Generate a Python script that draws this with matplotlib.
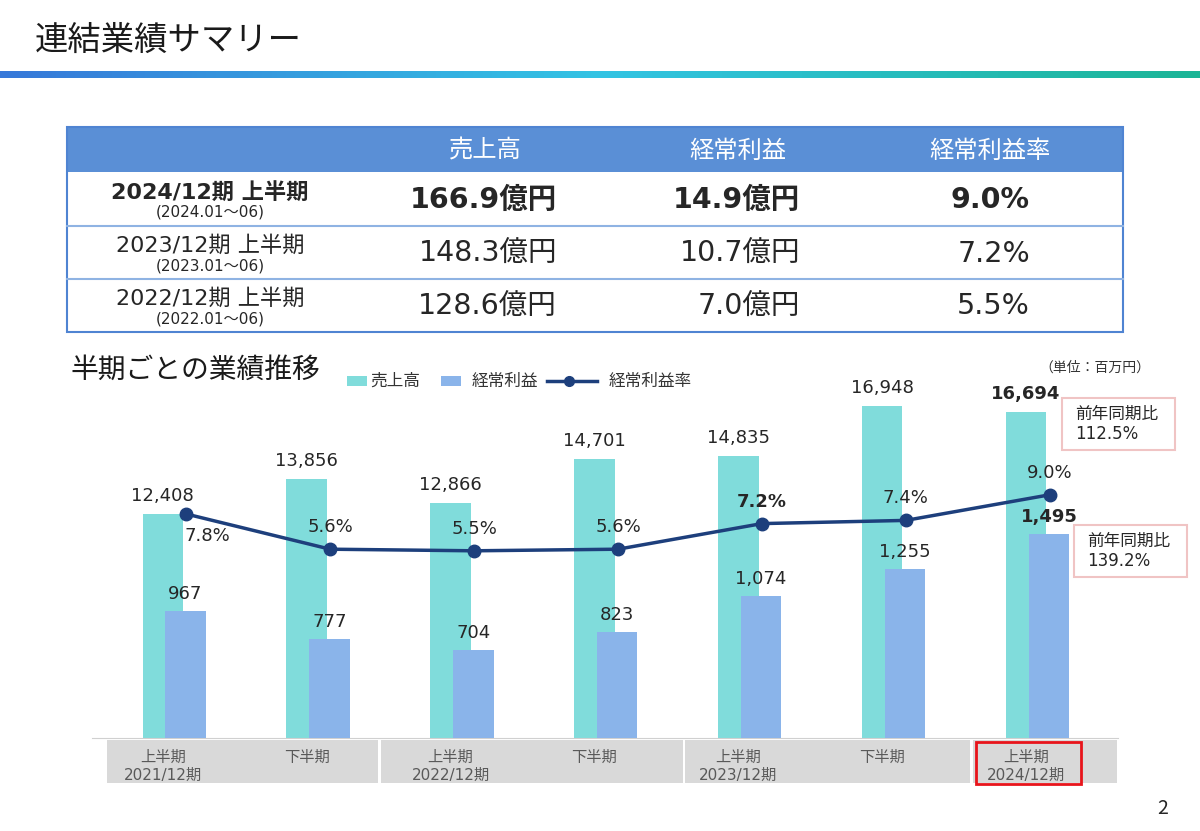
import matplotlib
matplotlib.use("Agg")
import matplotlib.pyplot as plt
import numpy as np
from matplotlib.colors import LinearSegmentedColormap
from matplotlib.patches import Rectangle

plt.rcParams['font.family'] = ['Noto Sans CJK JP', 'DejaVu Sans']
NUM = ['DejaVu Sans', 'Noto Sans CJK JP']  # 数字は幅広めのフォント

# 表データ
table_cols = ["売上高", "経常利益", "経常利益率"]
table_rows = ["2024/12期 上半期", "2023/12期 上半期", "2022/12期 上半期"]
table_sub = ["(2024.01～06)", "(2023.01～06)", "(2022.01～06)"]
table_sales = ["166.9億円", "148.3億円", "128.6億円"]
table_profit = ["14.9億円", "10.7億円", "7.0億円"]
table_margin = ["9.0%", "7.2%", "5.5%"]

# 半期ごとの推移
half_labels = ["上半期", "下半期", "上半期", "下半期", "上半期", "下半期", "上半期"]
year_labels = ["2021/12期", "", "2022/12期", "", "2023/12期", "", "2024/12期"]
sales = [12408, 13856, 12866, 14701, 14835, 16948, 16694]
profit = [967, 777, 704, 823, 1074, 1255, 1495]
margin = [7.8, 5.6, 5.5, 5.6, 7.2, 7.4, 9.0]

C_SALES = "#80dcdb"
C_PROFIT = "#8ab4ea"
C_LINE = "#1d3f7c"
C_TEXT = "#262626"

W, H = 1200, 831
fig = plt.figure(figsize=(W / 100, H / 100), dpi=100)

def fx(px):
    return px / W

def fy(py):
    return 1 - py / H

# 装飾用 (ピクセル座標)
deco = fig.add_axes([0, 0, 1, 1], zorder=1)
deco.patch.set_alpha(0)
deco.axis("off")

# タイトル
deco.text(35, 40, "連結業績サマリー", fontsize=24, color="#1a1a1a", va="center", ha="left")
cmap = LinearSegmentedColormap.from_list("bar", ["#3778d9", "#33c4e4", "#1bb596"])
deco.imshow(np.linspace(0, 1, 256)[None, :], cmap=cmap, extent=[0, W, 78, 71], aspect="auto")

# 表
tx0, tx1 = 67, 1123
row_y = [127, 172, 226, 279, 332]
deco.add_patch(Rectangle((tx0, row_y[0]), tx1 - tx0, row_y[1] - row_y[0], color="#5a8fd6", lw=0))
for yy in row_y[2:4]:
    deco.plot([tx0, tx1], [yy, yy], color="#8fb3e3", lw=1.5)
deco.add_patch(Rectangle((tx0, row_y[0]), tx1 - tx0, row_y[-1] - row_y[0], fill=False, ec="#4f84d2", lw=1.5))
col_c = [485, 738, 990]
col_r = [557, 800, 1030]
for c, name in zip(col_c, table_cols):
    deco.text(c, 151, name, color="white", fontsize=17.5, ha="center", va="center")
for i in range(3):
    top, bot = row_y[i + 1], row_y[i + 2]
    bold = "bold" if i == 0 else "normal"
    deco.text(210, top + 20, table_rows[i], fontsize=16, ha="center", va="center",
              color=C_TEXT, fontweight=bold, family=NUM)
    deco.text(210, top + 40, table_sub[i], fontsize=11, ha="center", va="center",
              color=C_TEXT, family=NUM)
    for r, vals in zip(col_r, [table_sales, table_profit, table_margin]):
        deco.text(r, (top + bot) / 2 + 1, vals[i], fontsize=20.5, ha="right", va="center",
                  color=C_TEXT, fontweight=bold, family=NUM)

# 小見出しと凡例
deco.text(70, 370, "半期ごとの業績推移", fontsize=20, va="center", ha="left", color="#1a1a1a")
deco.add_patch(Rectangle((347, 376), 20, 10, color=C_SALES, lw=0))
deco.text(370, 381, "売上高", fontsize=12, va="center", color="#333333")
deco.add_patch(Rectangle((441, 376), 20, 10, color=C_PROFIT, lw=0))
deco.text(472, 381, "経常利益", fontsize=12, va="center", color="#333333")
deco.plot([547, 597], [381, 381], color=C_LINE, lw=2.5)
deco.plot([569], [381], "o", color=C_LINE, ms=7)
deco.text(609, 381, "経常利益率", fontsize=12, va="center", color="#333333")
deco.text(1150, 368, "（単位：百万円）", fontsize=10, ha="right", va="center", color="#333333")

# 前年同期比
for (bx0, by0, bx1, by1), txt in [((1062, 398, 1175, 450), "前年同期比\n112.5%"),
                                   ((1074, 525, 1187, 577), "前年同期比\n139.2%")]:
    deco.add_patch(Rectangle((bx0, by0), bx1 - bx0, by1 - by0, fc="white", ec="#f0c4c4", lw=1.5))
    deco.text(bx0 + 13, (by0 + by1) / 2, txt, fontsize=12, va="center", ha="left",
              color=C_TEXT, linespacing=1.1, family=NUM)

# 横軸の帯
for bx0, bx1 in [(107, 378), (381, 683), (685, 970), (973, 1117)]:
    deco.add_patch(Rectangle((bx0, 740), bx1 - bx0, 43, color="#d9d9d9", lw=0))
deco.add_patch(Rectangle((976, 742), 105, 42, fill=False, ec="#e8141b", lw=2))

deco.text(1163, 808, "2", fontsize=14, ha="center", va="center", color=C_TEXT)
deco.set_xlim(0, W)
deco.set_ylim(H, 0)

# グラフ本体
ax = fig.add_axes([fx(92), fy(738), fx(1118 - 92), (738 - 380) / H], zorder=2)
ax2 = ax.twinx()
ax3 = ax.twinx()
ax2.set_zorder(3)
ax3.set_zorder(4)
x = np.arange(len(sales))
bw = 0.281
ax.bar(x - 0.0785, sales, bw, color=C_SALES)
ax2.bar(x + 0.08, profit, bw, color=C_PROFIT)
ax3.plot(x + 0.085, margin, color=C_LINE, lw=2.5, marker="o", ms=9, zorder=3)

ax.set_xlim(-0.570, 6.560)
ax.set_ylim(3015, 18025)
ax2.set_ylim(104, 2541)
ax3.set_ylim(-6.2, 16.175)

for i, v in enumerate(sales):
    ax.annotate(f"{v:,}", (x[i] - 0.0785, v), xytext=(0, 18), textcoords="offset pixels",
                ha="center", va="center", fontsize=13, color=C_TEXT, family=NUM,
                fontweight="bold" if i == 6 else "normal")
for i, v in enumerate(profit):
    ax2.annotate(f"{v:,}", (x[i] + 0.08, v), xytext=(0, 17), textcoords="offset pixels",
                 ha="center", va="center", fontsize=13, color=C_TEXT, family=NUM,
                 fontweight="bold" if i == 6 else "normal")
for i, v in enumerate(margin):
    off = (21, -22) if i == 0 else (0, 22)
    ax3.annotate(f"{v:.1f}%", (x[i] + 0.085, v), xytext=off, textcoords="offset pixels",
                 ha="center", va="center", fontsize=13, color=C_TEXT, family=NUM,
                 fontweight="bold" if i == 4 else "normal")

for i in range(len(x)):
    ax.text(x[i] - 0.0785, -0.053, half_labels[i], transform=ax.get_xaxis_transform(),
            ha="center", va="center", fontsize=11, color="#595959")
    if year_labels[i]:
        ax.text(x[i] - 0.0785, -0.105, year_labels[i], transform=ax.get_xaxis_transform(),
                ha="center", va="center", fontsize=11, color="#595959", family=NUM)

for a in (ax, ax2, ax3):
    a.set_yticks([])
    a.set_xticks([])
    for s in ("top", "right", "left", "bottom"):
        a.spines[s].set_visible(False)
    a.patch.set_alpha(0)
ax.spines["bottom"].set_visible(True)
ax.spines["bottom"].set_color("#d0d0d0")

fig.savefig("out.png", dpi=100)
